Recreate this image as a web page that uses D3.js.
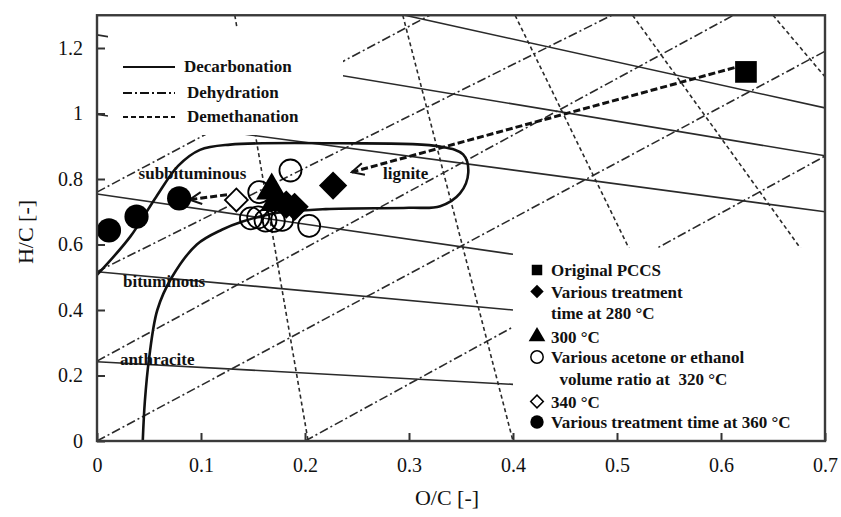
<!DOCTYPE html>
<html>
<head>
<meta charset="utf-8">
<script src="https://cdn.jsdelivr.net/npm/d3@7"></script>
<style>
  body { margin: 0; background: #fff; }
  svg { font-family: "Liberation Serif", "Times New Roman", serif; }
</style>
</head>
<body>
<div id="chart"></div>
<script>
// axis ticks
var xTicks = [0, 0.1, 0.2, 0.3, 0.4, 0.5, 0.6, 0.7];
var yTicks = [0, 0.2, 0.4, 0.6, 0.8, 1.0, 1.2];

// guide lines, [x1, y1, x2, y2] in O/C, H/C units
var decarbonation = [
  [0, 0.242, 0.4, 0.173],
  [0, 0.517, 0.4, 0.400],
  [0, 0.754, 0.4, 0.570],
  [0, 0.997, 0.7, 0.700],
  [0, 1.240, 0.7, 0.871],
  [0.296, 1.3, 0.7, 1.017]
];
var dehydration = [
  [0.2, 0, 0.7, 0.87],
  [0, 0, 0.7, 1.19],
  [0, 0.244, 0.612, 1.3],
  [0, 0.517, 0.495, 1.3],
  [0, 0.76, 0.32, 1.3]
];
var demethanation = [
  [0.1325, 1.3, 0.203, 0],
  [0.294, 1.3, 0.4, 0],
  [0.402, 1.3, 0.602, 0],
  [0.515, 1.3, 0.81, 0],
  [0.65, 1.3, 0.7, 1.112]
];

// coal band boundary
var coalBand = [
  [0.044, 0], [0.046, 0.12], [0.050, 0.25], [0.058, 0.40], [0.072, 0.50],
  [0.096, 0.60], [0.12, 0.645], [0.14, 0.67], [0.17, 0.695], [0.22, 0.708],
  [0.30, 0.712], [0.33, 0.717], [0.349, 0.756], [0.357, 0.82], [0.352, 0.875],
  [0.33, 0.899], [0.234, 0.909], [0.128, 0.905], [0.099, 0.889], [0.078, 0.84],
  [0.057, 0.746], [0.032, 0.624], [0, 0.507]
];

// samples
var original = [[0.624, 1.127]];
var time280 = [[0.227, 0.78], [0.19, 0.715], [0.182, 0.722]];
var temp300 = [[0.168, 0.765], [0.172, 0.73]];
var ratio320 = [[0.148, 0.68], [0.155, 0.683], [0.162, 0.673], [0.17, 0.672],
  [0.178, 0.675], [0.156, 0.76], [0.186, 0.826], [0.204, 0.657]];
var temp340 = [[0.134, 0.736]];
var time360 = [[0.0115, 0.643], [0.038, 0.685], [0.079, 0.741]];

// arrows [x1, y1, x2, y2]
var arrows = [
  [0.613, 1.14, 0.245, 0.821],
  [0.125, 0.752, 0.089, 0.737]
];

var coalLabels = ["subbituminous", "lignite", "bituminous", "anthracite"];
var coalLabelPos = [[0.04, 0.80], [0.275, 0.80], [0.025, 0.47], [0.022, 0.232]];

var lineLegend = ["Decarbonation", "Dehydration", "Demethanation"];
var sampleLegend = [
  ["square", "Original PCCS"],
  ["diamond", "Various treatment"],
  ["", "time at 280 \u00b0C"],
  ["triangle", "300 \u00b0C"],
  ["circleOpen", "Various acetone or ethanol"],
  ["", "  volume ratio at  320 \u00b0C"],
  ["diamondOpen", "340 \u00b0C"],
  ["circle", "Various treatment time at 360 \u00b0C"]
];

var width = 841;
var height = 517;
var plotLeft = 97, plotRight = 825, plotTop = 15.25, plotBottom = 441;

var svg = d3.select("#chart").append("svg")
  .attr("width", width)
  .attr("height", height);

var xScale = d3.scaleLinear().domain([0, 0.7]).range([plotLeft, plotRight]);
var yScale = d3.scaleLinear().domain([0, 1.3]).range([plotBottom, plotTop]);

svg.append("defs").append("clipPath").attr("id", "plotClip")
  .append("rect")
  .attr("x", plotLeft).attr("y", plotTop)
  .attr("width", plotRight - plotLeft).attr("height", plotBottom - plotTop);

var marker = svg.select("defs").append("marker")
  .attr("id", "arrowHead")
  .attr("viewBox", "-14 -8 16 16")
  .attr("refX", 0).attr("refY", 0)
  .attr("markerWidth", 16).attr("markerHeight", 16)
  .attr("markerUnits", "userSpaceOnUse")
  .attr("orient", "auto");
marker.append("path")
  .attr("d", "M-12,-6L0,0L-12,6")
  .attr("fill", "none")
  .attr("stroke", "#111")
  .attr("stroke-width", 2);

var guides = svg.append("g").attr("clip-path", "url(#plotClip)");

function drawGuides(data, dash) {
  guides.append("g").selectAll("line")
    .data(data)
    .enter()
    .append("line")
    .attr("x1", function(d) { return xScale(d[0]); })
    .attr("y1", function(d) { return yScale(d[1]); })
    .attr("x2", function(d) { return xScale(d[2]); })
    .attr("y2", function(d) { return yScale(d[3]); })
    .attr("stroke", "#2a2a2a")
    .attr("stroke-width", 1.6)
    .attr("stroke-dasharray", dash);
}
drawGuides(decarbonation, null);
drawGuides(dehydration, "9,3,2,3");
drawGuides(demethanation, "4,3");

// legend areas hide the guide lines
guides.append("rect")
  .attr("x", 108).attr("y", 28).attr("width", 235).attr("height", 107)
  .attr("fill", "#fff");
guides.append("rect")
  .attr("x", xScale(0.4)).attr("y", 248)
  .attr("width", plotRight - xScale(0.4)).attr("height", plotBottom - 248)
  .attr("fill", "#fff");

// coal band boundary
svg.append("path")
  .datum(coalBand)
  .attr("d", d3.line()
    .x(function(d) { return xScale(d[0]); })
    .y(function(d) { return yScale(d[1]); })
    .curve(d3.curveCatmullRom.alpha(0.5)))
  .attr("fill", "none")
  .attr("stroke", "#111")
  .attr("stroke-width", 2.6);

// arrows
svg.append("g").selectAll("line")
  .data(arrows)
  .enter()
  .append("line")
  .attr("x1", function(d) { return xScale(d[0]); })
  .attr("y1", function(d) { return yScale(d[1]); })
  .attr("x2", function(d) { return xScale(d[2]); })
  .attr("y2", function(d) { return yScale(d[3]); })
  .attr("stroke", "#111")
  .attr("stroke-width", 3)
  .attr("stroke-dasharray", "7,3")
  .attr("marker-end", "url(#arrowHead)");

// coal labels
svg.append("g").selectAll("text")
  .data(coalLabels)
  .enter()
  .append("text")
  .attr("x", function(d, i) { return xScale(coalLabelPos[i][0]); })
  .attr("y", function(d, i) { return yScale(coalLabelPos[i][1]); })
  .attr("font-size", 17)
  .attr("font-weight", "bold")
  .attr("fill", "#111")
  .text(function(d) { return d; });

// symbols (diamonds are rotated squares)
function symbolPath(type, size) {
  var t = {
    square: d3.symbolSquare,
    diamond: d3.symbolSquare,
    diamondOpen: d3.symbolSquare,
    triangle: d3.symbolTriangle,
    circle: d3.symbolCircle,
    circleOpen: d3.symbolCircle
  }[type];
  return d3.symbol().type(t).size(size)();
}
function isDiamond(type) { return type === "diamond" || type === "diamondOpen"; }

function drawPoints(data, type, size) {
  var open = type === "circleOpen" || type === "diamondOpen";
  svg.append("g").selectAll("path")
    .data(data)
    .enter()
    .append("path")
    .attr("d", symbolPath(type, size))
    .attr("transform", function(d) {
      return "translate(" + xScale(d[0]) + "," + yScale(d[1]) + ")" +
        (isDiamond(type) ? "rotate(45)" : "");
    })
    .attr("fill", open ? (type === "diamondOpen" ? "#fff" : "none") : "#000")
    .attr("stroke", "#000")
    .attr("stroke-width", open ? 1.8 : 0);
}
drawPoints(ratio320, "circleOpen", 380);
drawPoints(temp340, "diamondOpen", 260);
drawPoints(time280, "diamond", 400);
drawPoints(temp300, "triangle", 420);
drawPoints(time360, "circle", 460);
drawPoints(original, "square", 470);

// axes
var xAxis = d3.axisBottom(xScale)
  .tickValues(xTicks)
  .tickSizeInner(-8).tickSizeOuter(0).tickPadding(17)
  .tickFormat(function(d) { return d === 0 ? "0" : d3.format(".1f")(d); });
var yAxis = d3.axisLeft(yScale)
  .tickValues(yTicks)
  .tickSizeInner(-8).tickSizeOuter(0).tickPadding(14)
  .tickFormat(function(d) { return String(+d.toFixed(1)); });

var gx = svg.append("g").attr("transform", "translate(0," + plotBottom + ")").call(xAxis);
var gy = svg.append("g").attr("transform", "translate(" + plotLeft + ",0)").call(yAxis);
[gx, gy].forEach(function(g) {
  g.select(".domain").remove();
  g.selectAll("line").attr("stroke", "#333").attr("stroke-width", 2);
  g.selectAll("text")
    .attr("font-family", "Liberation Serif, Times New Roman, serif")
    .attr("font-size", 20)
    .attr("fill", "#111");
});

svg.append("rect")
  .attr("x", plotLeft).attr("y", plotTop)
  .attr("width", plotRight - plotLeft).attr("height", plotBottom - plotTop)
  .attr("fill", "none")
  .attr("stroke", "#3a3a3a")
  .attr("stroke-width", 2.4);

svg.append("text")
  .attr("x", 447)
  .attr("y", 505)
  .attr("text-anchor", "middle")
  .attr("font-size", 22)
  .attr("fill", "#111")
  .text("O/C [-]");

svg.append("text")
  .attr("transform", "translate(33,232)rotate(-90)")
  .attr("text-anchor", "middle")
  .attr("font-size", 22)
  .attr("fill", "#111")
  .text("H/C [-]");

// line legend
var lineDash = [null, "9,3,2,3", "5,3"];
var lineLegendY = [67, 93, 117];
var ll = svg.append("g");
lineLegend.forEach(function(name, i) {
  ll.append("line")
    .attr("x1", 123).attr("x2", 175)
    .attr("y1", lineLegendY[i]).attr("y2", lineLegendY[i])
    .attr("stroke", "#111")
    .attr("stroke-width", 2.2)
    .attr("stroke-dasharray", lineDash[i]);
  ll.append("text")
    .attr("x", i === 0 ? 184 : 187)
    .attr("y", lineLegendY[i] + 5)
    .attr("font-size", 17)
    .attr("font-weight", "bold")
    .attr("fill", "#111")
    .text(name);
});

// sample legend
var rowY = [270, 291.5, 313, 336.5, 357, 378.5, 401.5, 422];
var sl = svg.append("g");
sampleLegend.forEach(function(row, i) {
  if (row[0]) {
    var open = row[0] === "circleOpen" || row[0] === "diamondOpen";
    var size = { square: 110, diamond: 90, triangle: 120, circleOpen: 120, diamondOpen: 80, circle: 140 }[row[0]];
    sl.append("path")
      .attr("d", symbolPath(row[0], size))
      .attr("transform", "translate(537," + rowY[i] + ")" + (isDiamond(row[0]) ? "rotate(45)" : ""))
      .attr("fill", open ? "#fff" : "#000")
      .attr("stroke", "#000")
      .attr("stroke-width", open ? 1.5 : 0);
  }
  sl.append("text")
    .attr("x", 551)
    .attr("y", rowY[i] + 6)
    .attr("font-size", 17)
    .attr("font-weight", "bold")
    .attr("fill", "#111")
    .attr("xml:space", "preserve")
    .style("white-space", "pre")
    .text(row[1]);
});
</script>
</body>
</html>
